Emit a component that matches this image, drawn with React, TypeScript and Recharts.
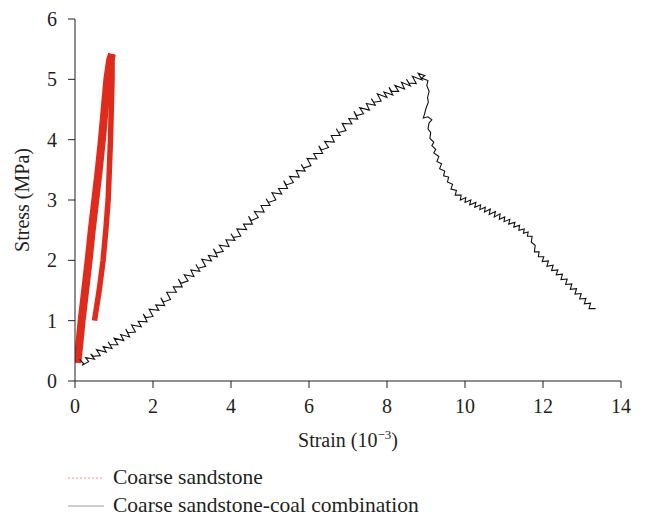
import { LineChart, Line, XAxis, YAxis, Label } from "recharts";

const strainTicks = [0, 2, 4, 6, 8, 10, 12, 14];
const stressTicks = [0, 1, 2, 3, 4, 5, 6];

const sandstoneName = "Coarse sandstone";
const combinationName = "Coarse sandstone-coal combination";

// coarse sandstone: loading band (left) and return band (right), strain 10^-3 vs MPa
const sandstoneUp: [number, number][] = [
  [0.06, 0.3], [0.11, 0.6], [0.17, 1.0], [0.26, 1.5], [0.35, 2.0], [0.43, 2.5],
  [0.52, 3.0], [0.61, 3.5], [0.69, 4.0], [0.76, 4.5], [0.83, 5.0], [0.9, 5.32], [0.95, 5.42],
];
const sandstoneDown: [number, number][] = [
  [0.95, 5.42], [0.95, 5.0], [0.93, 4.5], [0.91, 4.0], [0.88, 3.5], [0.85, 3.0],
  [0.79, 2.5], [0.72, 2.0], [0.62, 1.5], [0.5, 1.0],
];

// coarse sandstone-coal combination (noisy trace)
const combination: [number, number][] = [
  [0.12, 0.36], [0.22, 0.29], [0.18, 0.26],
  [0.35, 0.32], [0.27, 0.39], [0.5, 0.36], [0.4, 0.45], [0.47, 0.41], [0.65, 0.42], [0.55, 0.52],
  [0.8, 0.48], [0.72, 0.57], [0.95, 0.54], [0.85, 0.65], [0.9, 0.6], [1.1, 0.6], [1.0, 0.71],
  [1.25, 0.67], [1.17, 0.77], [1.4, 0.73], [1.3, 0.86], [1.36, 0.8], [1.55, 0.81], [1.45, 0.93],
  [1.7, 0.9], [1.62, 0.99], [1.85, 0.98], [1.75, 1.11], [1.82, 1.05], [2.0, 1.07], [1.9, 1.19],
  [2.15, 1.17], [2.07, 1.26], [2.3, 1.25], [2.2, 1.38], [2.27, 1.31], [2.45, 1.35], [2.35, 1.47],
  [2.6, 1.47], [2.52, 1.56], [2.75, 1.56], [2.65, 1.69], [2.72, 1.62], [2.9, 1.66], [2.8, 1.76],
  [3.05, 1.73], [2.97, 1.84], [3.2, 1.82], [3.1, 1.93], [3.16, 1.87], [3.35, 1.9], [3.25, 2.02],
  [3.5, 1.99], [3.42, 2.08], [3.65, 2.06], [3.55, 2.19], [3.62, 2.12], [3.8, 2.15], [3.7, 2.25],
  [3.95, 2.23], [3.87, 2.34], [4.1, 2.33], [4.0, 2.44], [4.06, 2.38], [4.25, 2.4], [4.15, 2.52],
  [4.4, 2.51], [4.32, 2.6], [4.55, 2.6], [4.45, 2.73], [4.52, 2.66], [4.7, 2.71], [4.6, 2.81],
  [4.85, 2.8], [4.77, 2.91], [5.0, 2.91], [4.9, 3.02], [4.96, 2.96], [5.15, 3.0], [5.05, 3.12],
  [5.3, 3.1], [5.22, 3.19], [5.45, 3.19], [5.35, 3.32], [5.42, 3.25], [5.6, 3.29], [5.5, 3.39],
  [5.75, 3.38], [5.67, 3.49], [5.9, 3.48], [5.8, 3.59], [5.86, 3.53], [6.05, 3.57], [5.95, 3.69],
  [6.2, 3.68], [6.12, 3.77], [6.35, 3.77], [6.25, 3.9], [6.32, 3.83], [6.5, 3.87], [6.4, 3.97],
  [6.65, 3.96], [6.57, 4.07], [6.8, 4.07], [6.7, 4.18], [6.76, 4.12], [6.95, 4.15], [6.85, 4.27],
  [7.1, 4.26], [7.02, 4.35], [7.25, 4.34], [7.15, 4.47], [7.22, 4.4], [7.4, 4.43], [7.3, 4.53],
  [7.55, 4.49], [7.47, 4.6], [7.7, 4.57], [7.6, 4.68], [7.66, 4.62], [7.85, 4.64], [7.75, 4.76],
  [8.0, 4.7], [7.92, 4.79], [8.15, 4.74], [8.05, 4.87], [8.12, 4.8], [8.3, 4.8], [8.2, 4.9],
  [8.45, 4.84], [8.37, 4.95], [8.6, 4.89], [8.5, 5.0], [8.56, 4.94], [8.75, 4.93], [8.65, 5.05],
  [8.9, 4.99], [8.8, 5.1], [8.97, 5.06], [8.88, 5.02], [9.05, 4.98],
  [9.02, 4.9], [9.08, 4.8], [9.04, 4.7], [9.06, 4.62], [9.0, 4.52], [8.96, 4.42], [8.93, 4.36],
  [9.05, 4.38], [9.15, 4.33], [9.08, 4.28], [9.05, 4.18], [9.12, 4.12], [9.1, 4.02], [9.2, 3.96],
  [9.15, 3.9], [9.25, 3.84], [9.2, 3.78], [9.33, 3.72], [9.28, 3.64], [9.4, 3.6], [9.35, 3.52],
  [9.48, 3.48], [9.45, 3.4], [9.58, 3.38], [9.55, 3.3], [9.68, 3.26], [9.64, 3.18], [9.78, 3.16],
  [9.75, 3.08], [9.9, 3.08], [9.88, 3.0], [10.02, 3.04], [10.0, 2.96], [10.15, 3.0], [10.12, 2.92],
  [10.28, 2.96], [10.25, 2.88], [10.4, 2.92], [10.38, 2.84], [10.52, 2.88], [10.5, 2.8],
  [10.65, 2.85], [10.62, 2.76], [10.78, 2.81], [10.75, 2.72], [10.9, 2.77], [10.88, 2.68],
  [11.02, 2.72], [11.0, 2.64], [11.15, 2.68], [11.12, 2.6], [11.28, 2.63], [11.25, 2.55],
  [11.4, 2.58], [11.38, 2.5], [11.52, 2.52], [11.5, 2.45], [11.62, 2.47], [11.6, 2.4],
  [11.72, 2.4], [11.7, 2.3], [11.8, 2.25], [11.78, 2.14], [11.9, 2.14], [11.88, 2.06],
  [12.02, 2.06], [11.98, 1.98], [12.14, 1.99], [12.1, 1.9], [12.26, 1.92], [12.22, 1.83],
  [12.38, 1.84], [12.34, 1.76], [12.5, 1.77], [12.46, 1.68], [12.62, 1.69], [12.58, 1.6],
  [12.74, 1.61], [12.7, 1.52], [12.86, 1.53], [12.82, 1.44], [12.98, 1.45], [12.94, 1.36],
  [13.1, 1.37], [13.06, 1.28], [13.22, 1.29], [13.18, 1.2], [13.35, 1.2],
];

const toPoints = (arr: [number, number][]) => arr.map(([x, y]) => ({ x, y }));

const font = "'Liberation Serif', 'Times New Roman', serif";
const ink = "#231f20";
const red = "#de2b1c";
const fs = 20;

export default function App() {
  return (
    <div style={{ position: "absolute", left: 0, top: 0, width: 645, height: 519, background: "#fff", fontFamily: font }}>
      <LineChart width={645} height={519} margin={{ top: 19, right: 24, bottom: 0, left: 0 }}>
        <XAxis
          type="number"
          dataKey="x"
          domain={[0, 14]}
          ticks={strainTicks}
          allowDataOverflow
          height={138}
          tickSize={7}
          tickMargin={11}
          stroke={ink}
          tick={{ fill: ink, fontSize: fs, fontFamily: font }}
        >
          <Label
            content={({ viewBox }: any) => (
              <text
                x={viewBox.x + viewBox.width / 2}
                y={viewBox.y + 66}
                textAnchor="middle"
                fill={ink}
                fontSize={fs}
                fontFamily={font}
              >
                Strain (10
                <tspan fontSize={13} dy={-8}>−3</tspan>
                <tspan dy={8}>)</tspan>
              </text>
            )}
          />
        </XAxis>
        <YAxis
          type="number"
          dataKey="y"
          domain={[0, 6]}
          ticks={stressTicks}
          width={75}
          tickSize={7}
          tickMargin={11}
          stroke={ink}
          tick={{ fill: ink, fontSize: fs, fontFamily: font }}
        >
          <Label
            content={({ viewBox }: any) => {
              const cy = viewBox.y + viewBox.height / 2;
              return (
                <text
                  x={29}
                  y={cy}
                  transform={`rotate(-90 29 ${cy})`}
                  textAnchor="middle"
                  fill={ink}
                  fontSize={fs}
                  fontFamily={font}
                >
                  Stress (MPa)
                </text>
              );
            }}
          />
        </YAxis>
        <Line
          data={toPoints(sandstoneUp)}
          dataKey="y"
          type="linear"
          stroke={red}
          strokeWidth={8}
          dot={false}
          isAnimationActive={false}
        />
        <Line
          data={toPoints(sandstoneDown)}
          dataKey="y"
          type="linear"
          stroke={red}
          strokeWidth={5.5}
          dot={false}
          isAnimationActive={false}
        />
        <Line
          data={toPoints(combination)}
          dataKey="y"
          type="linear"
          stroke="#111"
          strokeWidth={1.1}
          dot={false}
          isAnimationActive={false}
        />
      </LineChart>
      <div style={{ position: "absolute", left: 68, top: 465, fontSize: 21.5, color: ink, lineHeight: "25px" }}>
        <div style={{ display: "flex", alignItems: "center", height: 25 }}>
          <svg width={36} height={10} style={{ marginRight: 9 }}>
            <line x1={0} y1={5} x2={36} y2={5} stroke="#f08a80" strokeWidth={1} strokeDasharray="2 2" />
          </svg>
          <span>{sandstoneName}</span>
        </div>
        <div style={{ display: "flex", alignItems: "center", height: 25, marginTop: 3 }}>
          <svg width={36} height={10} style={{ marginRight: 9 }}>
            <line x1={0} y1={5} x2={36} y2={5} stroke="#9a9aae" strokeWidth={1} />
          </svg>
          <span>{combinationName}</span>
        </div>
      </div>
    </div>
  );
}
